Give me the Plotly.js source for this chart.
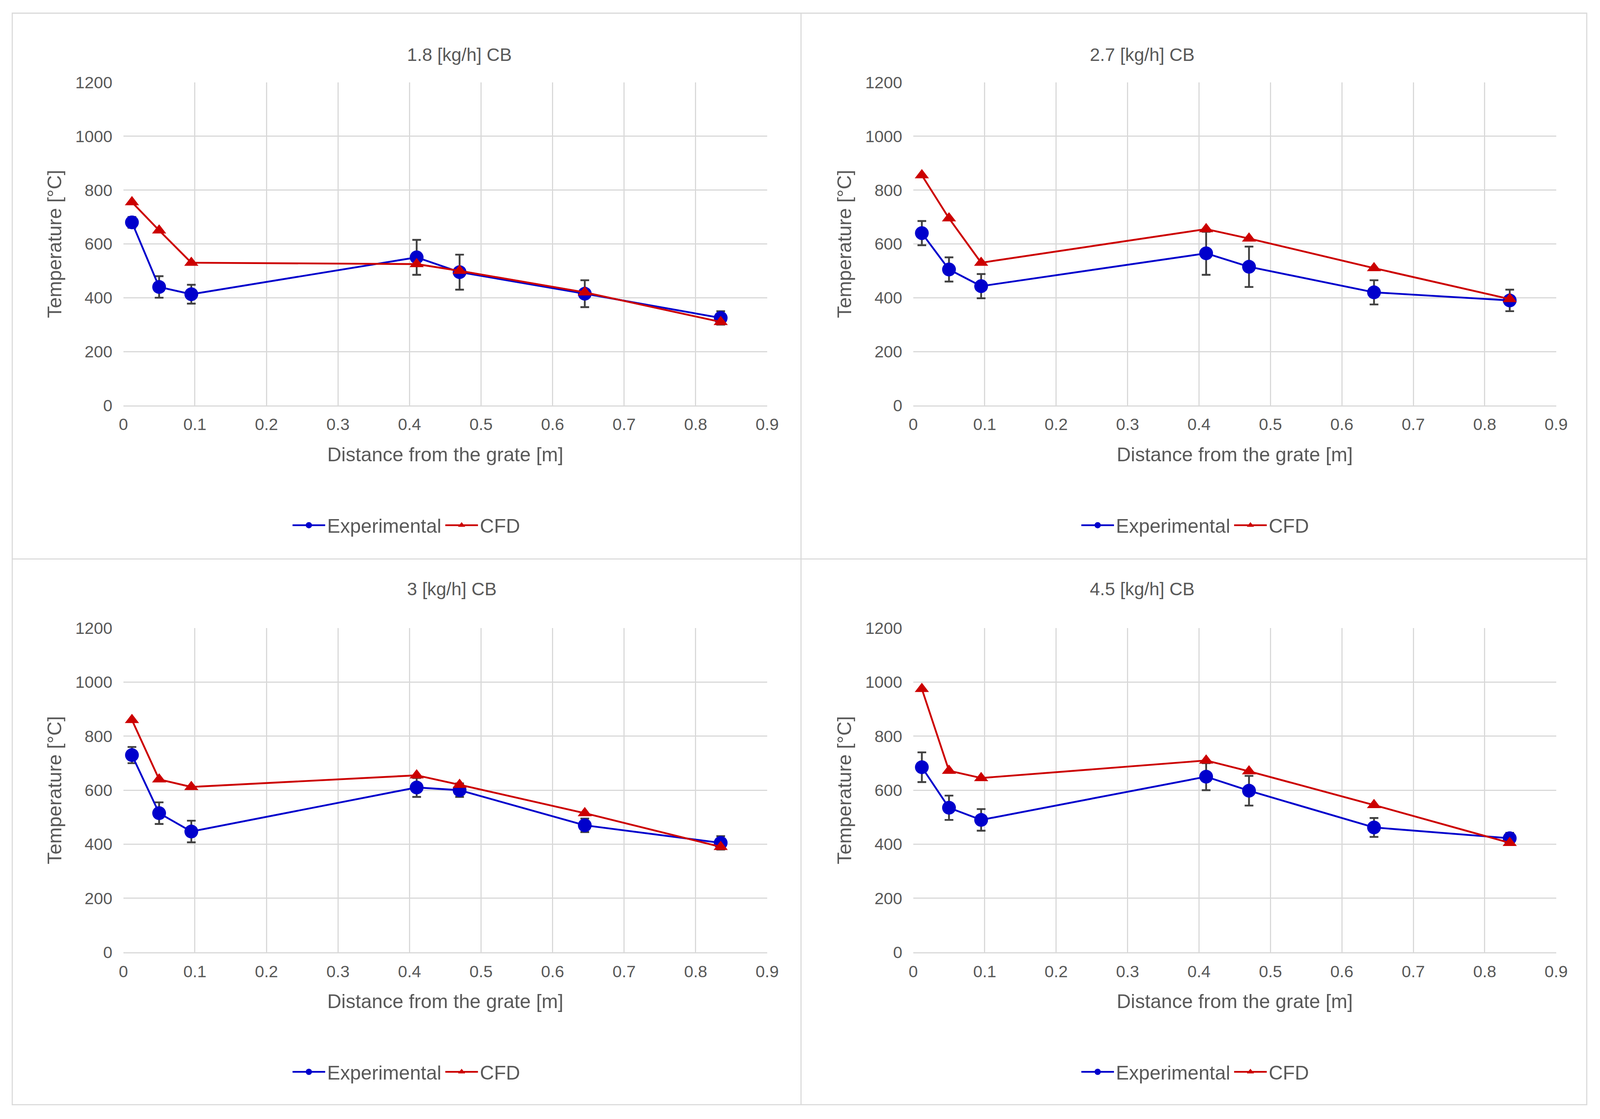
<!DOCTYPE html><html><head><meta charset="utf-8"><script src="https://cdn.plot.ly/plotly-3.0.1.min.js"></script>
<style>html,body{margin:0;padding:0;overflow:hidden}#c{width:100vw;height:100vh}</style></head><body><div id="c"></div><script>
const xs=[0.012,0.05,0.095,0.41,0.47,0.645,0.835];
const titles=["1.8 [kg/h] CB","2.7 [kg/h] CB","3 [kg/h] CB","4.5 [kg/h] CB"];
const exp1=[680,440,413,550,495,415,325], err1=[20,40,35,65,65,50,25], cfd1=[755,650,530,525,500,420,310];
const exp2=[640,505,443,565,515,420,390], err2=[45,45,45,80,75,45,40], cfd2=[855,695,530,655,620,510,395];
const exp3=[730,515,447,610,600,470,405], err3=[30,40,40,35,25,25,25], cfd3=[860,640,612,655,620,515,390];
const exp4=[685,535,490,650,598,462,422], err4=[55,45,40,50,55,35,20], cfd4=[975,672,645,710,670,545,405];
const E=[exp1,exp2,exp3,exp4],R=[err1,err2,err3,err4],C=[cfd1,cfd2,cfd3,cfd4];
const W=window.innerWidth||4411,H=window.innerHeight||2865,k=W/4411;
const F="Liberation Sans Narrow, Liberation Sans, sans-serif",G="#595959";
const xd=[[0.0771,0.4795],[0.5708,0.9726],[0.0771,0.4795],[0.5708,0.9726]];
const yd=[[0.6377,0.9264],[0.6377,0.9264],[0.149,0.4387],[0.149,0.4387]];
const tx=[0.254,0.747,0.254,0.747],ty=[0.961,0.961,0.4736,0.4736],ly=[0.5305,0.5305,0.042,0.042];
const data=[],layout={width:W,height:H,margin:{l:0,r:0,t:0,b:0},paper_bgcolor:"#fff",plot_bgcolor:"#fff",font:{family:F,color:G},annotations:[],shapes:[]};
for(let i=0;i<4;i++){const s=i?String(i+1):"";const lg=i?"legend"+(i+1):"legend";
data.push({x:xs,y:E[i],name:"Experimental",xaxis:"x"+s,yaxis:"y"+s,legend:lg,mode:"lines+markers",line:{color:"#0000CC",width:5*k},marker:{symbol:"circle",size:38*k,color:"#0000CC"},error_y:{type:"data",array:R[i],color:"#404040",thickness:5*k,width:12*k}});
data.push({x:xs,y:C[i],name:"CFD",xaxis:"x"+s,yaxis:"y"+s,legend:lg,mode:"lines+markers",line:{color:"#CC0000",width:5*k},marker:{symbol:"triangle-up",size:34*k,color:"#CC0000"}});
layout["xaxis"+s]={domain:xd[i],anchor:"y"+s,range:[0,0.9],dtick:0.1,showgrid:true,gridcolor:"#d9d9d9",gridwidth:3*k,showline:true,linecolor:"#d9d9d9",linewidth:3*k,zeroline:false,tickfont:{size:46*k,color:G},ticks:"outside",ticklen:10*k,tickcolor:"rgba(0,0,0,0)",title:{text:"Distance from the grate [m]",font:{size:54*k,color:G},standoff:40*k}};
layout["yaxis"+s]={domain:yd[i],anchor:"x"+s,range:[0,1200],dtick:200,showgrid:true,gridcolor:"#d9d9d9",gridwidth:3*k,zeroline:false,tickfont:{size:46*k,color:G},ticks:"outside",ticklen:20*k,tickcolor:"rgba(0,0,0,0)",title:{text:"Temperature [°C]",font:{size:54*k,color:G},standoff:20*k}};
layout[lg]={orientation:"h",x:tx[i],xanchor:"center",y:ly[i],yanchor:"middle",font:{size:54*k,color:G},itemwidth:90*k};
layout.annotations.push({text:titles[i],x:tx[i],y:ty[i],xref:"paper",yref:"paper",showarrow:false,font:{size:50*k,color:G}});}
layout.shapes.push({type:"rect",xref:"paper",yref:"paper",x0:12/1568,x1:1555/1568,y0:1-1006/1019,y1:1-12/1019,line:{color:"#d9d9d9",width:3*k}});
layout.shapes.push({type:"line",xref:"paper",yref:"paper",x0:785/1568,x1:785/1568,y0:1-1006/1019,y1:1-12/1019,line:{color:"#d9d9d9",width:3*k}});
layout.shapes.push({type:"line",xref:"paper",yref:"paper",x0:12/1568,x1:1555/1568,y0:1-509/1019,y1:1-509/1019,line:{color:"#d9d9d9",width:3*k}});
Plotly.newPlot("c",data,layout,{displayModeBar:false});
</script></body></html>
